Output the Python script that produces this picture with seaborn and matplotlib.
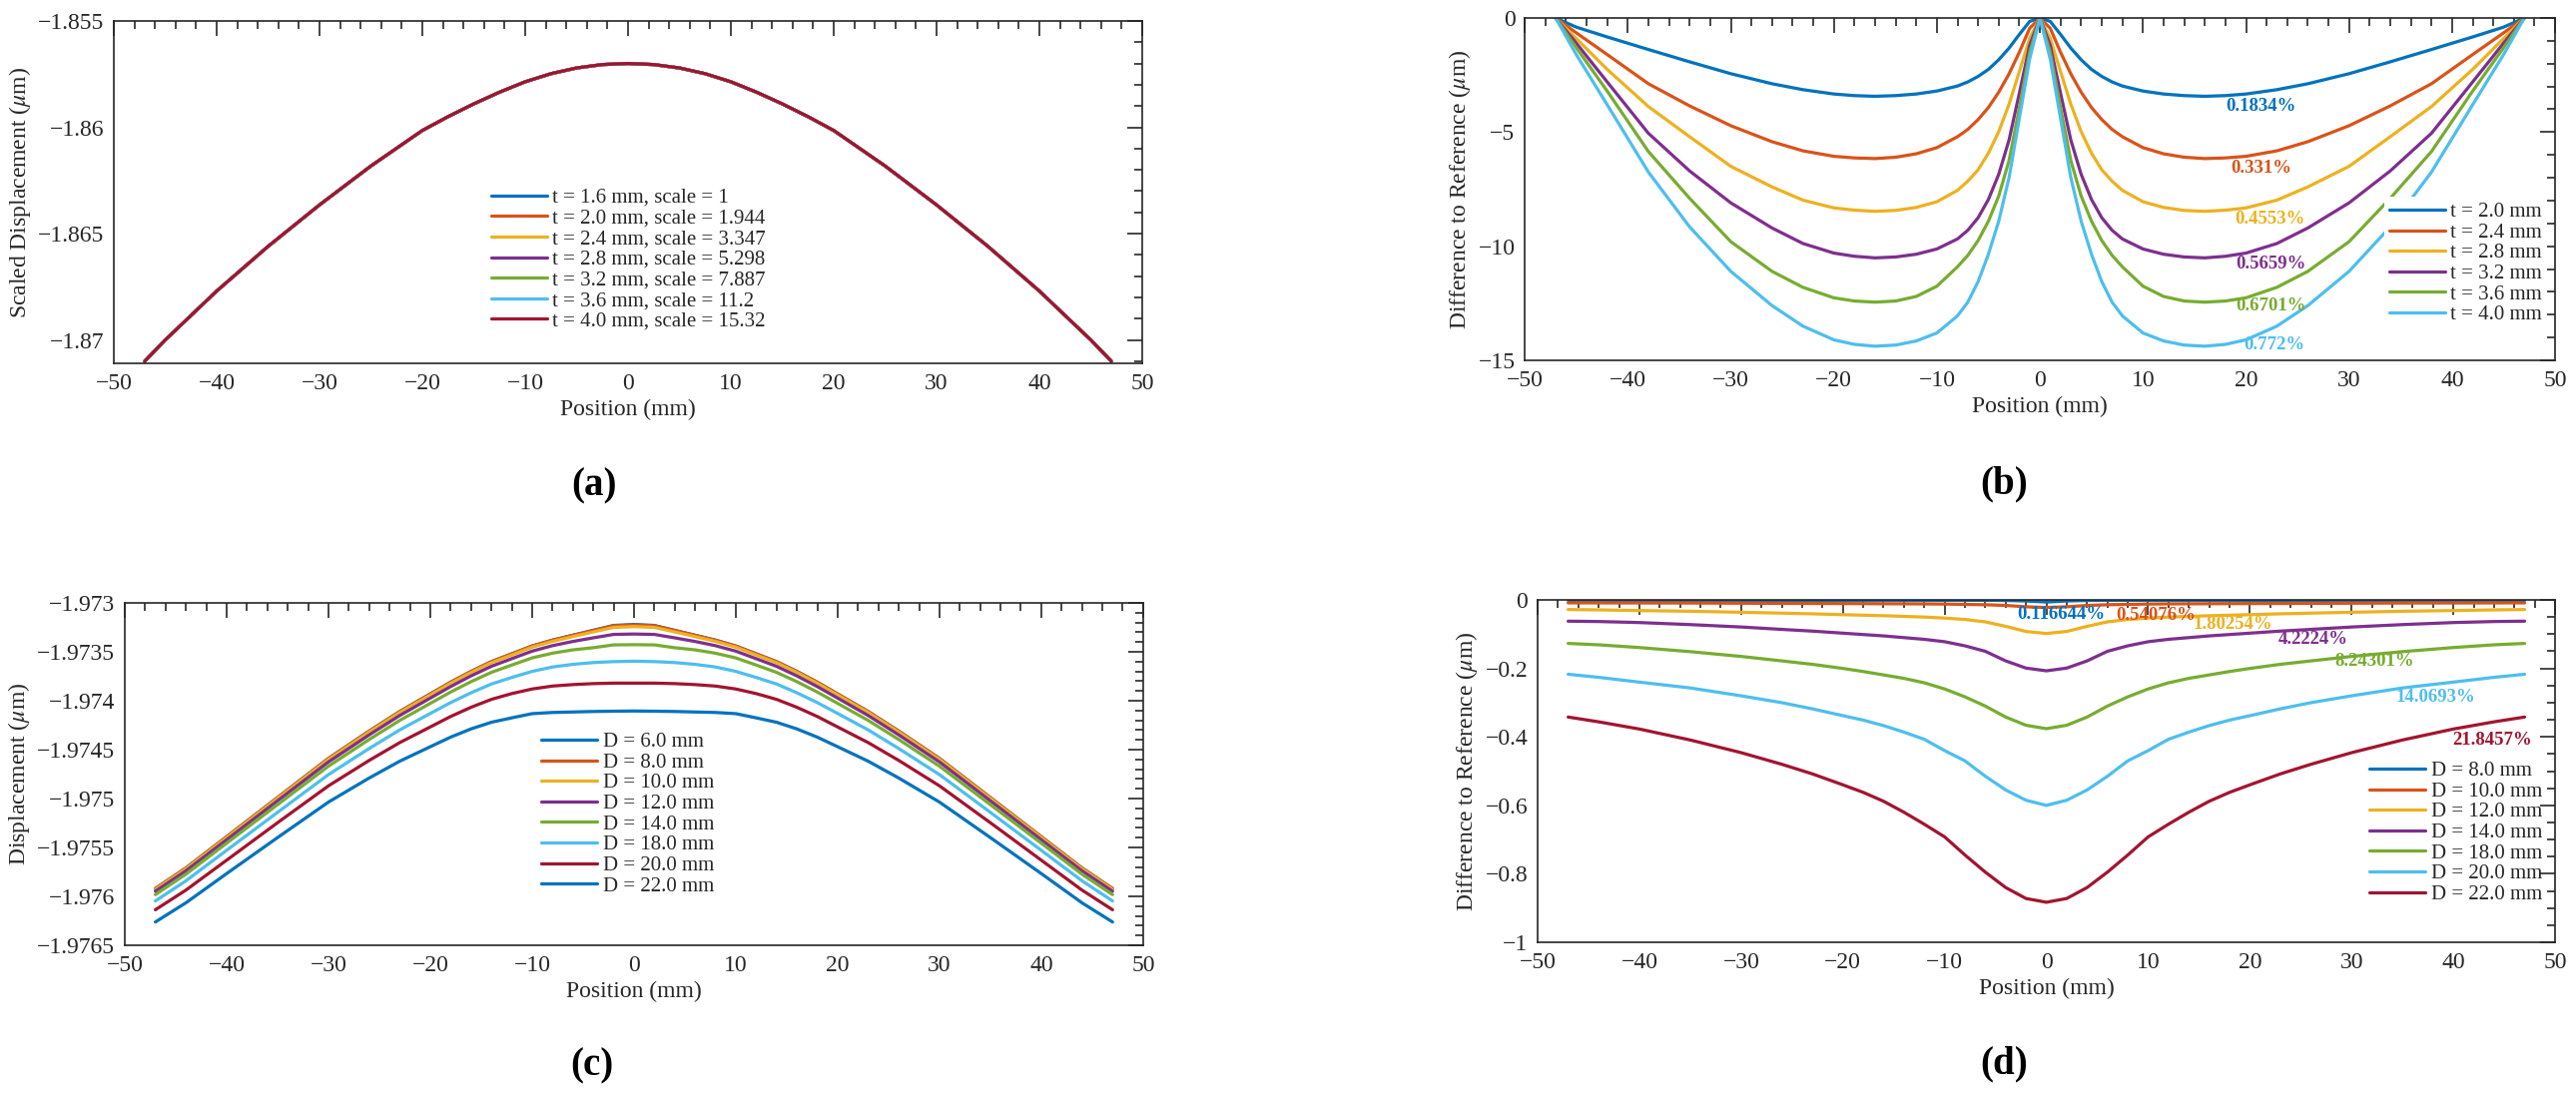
import pandas as pd
import matplotlib
matplotlib.use('Agg')
import matplotlib.pyplot as plt
import seaborn as sns
from matplotlib.ticker import MultipleLocator, FuncFormatter

sns.set_theme(style='white')
plt.rcParams['font.family'] = ['Liberation Serif', 'DejaVu Serif']
plt.rcParams['mathtext.fontset'] = 'stix'

matlab = ['#0072BD', '#D95319', '#EDB120', '#7E2F8E', '#77AC30', '#4DBEEE', '#A2142F']
ink = '#262626'

# ---------- (a) scaled displacement ----------
labels_a = ['t = 1.6 mm, scale = 1', 't = 2.0 mm, scale = 1.944', 't = 2.4 mm, scale = 3.347',
            't = 2.8 mm, scale = 5.298', 't = 3.2 mm, scale = 7.887', 't = 3.6 mm, scale = 11.2',
            't = 4.0 mm, scale = 15.32']
x_a = [-47, -45, -40, -35, -30, -25, -20, -17.5, -15, -12.5, -10, -7.5, -5, -2.5, 0,
       2.5, 5, 7.5, 10, 12.5, 15, 17.5, 20, 25, 30, 35, 40, 45, 47]
# all seven curves coincide in the picture
scaled_disp = [-1.871, -1.87, -1.8677, -1.8656, -1.86365, -1.86182, -1.86015, -1.8595, -1.8589,
               -1.85835, -1.85786, -1.85748, -1.85721, -1.85705, -1.857, -1.85705, -1.85721,
               -1.85748, -1.85786, -1.85835, -1.8589, -1.8595, -1.86015, -1.86182, -1.86365,
               -1.8656, -1.8677, -1.87, -1.871]

# ---------- (b) difference to reference, thickness ----------
labels_b = ['t = 2.0 mm', 't = 2.4 mm', 't = 2.8 mm', 't = 3.2 mm', 't = 3.6 mm', 't = 4.0 mm']
x_b = [-47, -45, -42, -38, -34, -30, -26, -23, -20, -18, -16, -14, -12, -10, -8, -7, -6, -5, -4, -3,
       -2, -1, 0, 1, 2, 3, 4, 5, 6, 7, 8, 10, 12, 14, 16, 18, 20, 23, 26, 30, 34, 38, 42, 45, 47]
diff_t20 = [0, -0.4, -0.83, -1.38, -1.92, -2.44, -2.88, -3.14, -3.33, -3.4, -3.43, -3.4, -3.33, -3.2,
            -2.98, -2.8, -2.56, -2.25, -1.83, -1.32, -0.72, -0.15, 0,
            -0.15, -0.72, -1.32, -1.83, -2.25, -2.56, -2.8, -2.98, -3.2, -3.33, -3.4, -3.43, -3.4,
            -3.33, -3.14, -2.88, -2.44, -1.92, -1.38, -0.83, -0.4, 0]
diff_t24 = [0, -0.65, -1.6, -2.88, -3.85, -4.72, -5.42, -5.82, -6.06, -6.13, -6.16, -6.1, -5.95, -5.68,
            -5.2, -4.88, -4.45, -3.92, -3.25, -2.45, -1.5, -0.45, 0,
            -0.45, -1.5, -2.45, -3.25, -3.92, -4.45, -4.88, -5.2, -5.68, -5.95, -6.1, -6.16, -6.13,
            -6.06, -5.82, -5.42, -4.72, -3.85, -2.88, -1.6, -0.65, 0]
diff_t28 = [0, -0.9, -2.25, -3.88, -5.2, -6.5, -7.4, -7.98, -8.32, -8.42, -8.47, -8.43, -8.3, -8.05,
            -7.55, -7.15, -6.65, -5.92, -4.98, -3.78, -2.35, -0.9, 0,
            -0.9, -2.35, -3.78, -4.98, -5.92, -6.65, -7.15, -7.55, -8.05, -8.3, -8.43, -8.47, -8.42,
            -8.32, -7.98, -7.4, -6.5, -5.2, -3.88, -2.25, -0.9, 0]
diff_t32 = [0, -1.1, -2.8, -5.05, -6.7, -8.1, -9.2, -9.88, -10.3, -10.44, -10.51, -10.47, -10.35,
            -10.12, -9.68, -9.3, -8.75, -7.95, -6.85, -5.35, -3.3, -1.2, 0,
            -1.2, -3.3, -5.35, -6.85, -7.95, -8.75, -9.3, -9.68, -10.12, -10.35, -10.47, -10.51,
            -10.44, -10.3, -9.88, -9.2, -8.1, -6.7, -5.05, -2.8, -1.1, 0]
diff_t36 = [0, -1.3, -3.2, -5.85, -7.9, -9.8, -11.1, -11.8, -12.26, -12.4, -12.45, -12.4, -12.2,
            -11.75, -10.9, -10.4, -9.75, -8.9, -7.8, -6.25, -3.95, -1.5, 0,
            -1.5, -3.95, -6.25, -7.8, -8.9, -9.75, -10.4, -10.9, -11.75, -12.2, -12.4, -12.45,
            -12.4, -12.26, -11.8, -11.1, -9.8, -7.9, -5.85, -3.2, -1.3, 0]
diff_t40 = [0, -1.6, -3.8, -6.75, -9.15, -11.1, -12.6, -13.5, -14.1, -14.3, -14.38, -14.33, -14.15,
            -13.8, -13.05, -12.45, -11.55, -10.35, -8.9, -7.0, -4.4, -1.8, 0,
            -1.8, -4.4, -7.0, -8.9, -10.35, -11.55, -12.45, -13.05, -13.8, -14.15, -14.33, -14.38,
            -14.3, -14.1, -13.5, -12.6, -11.1, -9.15, -6.75, -3.8, -1.6, 0]
pct_b = ['0.1834%', '0.331%', '0.4553%', '0.5659%', '0.6701%', '0.772%']

# ---------- (c) displacement, diameter ----------
labels_c = ['D = 6.0 mm', 'D = 8.0 mm', 'D = 10.0 mm', 'D = 12.0 mm', 'D = 14.0 mm',
            'D = 18.0 mm', 'D = 20.0 mm', 'D = 22.0 mm']
x_cd = [-47, -44, -40, -35, -30, -26, -23, -20, -18, -16, -14, -12, -10, -8, -6, -4, -2, 0,
        2, 4, 6, 8, 10, 12, 14, 16, 18, 20, 23, 26, 30, 35, 40, 44, 47]
disp_d6 = [-1.97592, -1.97571, -1.97539, -1.97499, -1.97459, -1.97431, -1.97411, -1.97393, -1.97381,
           -1.9737, -1.9736, -1.97352, -1.97344, -1.97338, -1.97333, -1.97328, -1.97323, -1.97322,
           -1.97323, -1.97328, -1.97333, -1.97338, -1.97344, -1.97352, -1.9736, -1.9737, -1.97381,
           -1.97393, -1.97411, -1.97431, -1.97459, -1.97499, -1.97539, -1.97571, -1.97592]
disp_d8 = [-1.975921, -1.975711, -1.975391, -1.974991, -1.974591, -1.974311, -1.974111, -1.973931,
           -1.973811, -1.973701, -1.973601, -1.973521, -1.973441, -1.973381, -1.973331, -1.973282,
           -1.973233, -1.973226, -1.973233, -1.973282, -1.973331, -1.973381, -1.973441, -1.973521,
           -1.973601, -1.973701, -1.973811, -1.973931, -1.974111, -1.974311, -1.974591, -1.974991,
           -1.975391, -1.975711, -1.975921]
disp_d10 = [-1.975929, -1.975719, -1.975399, -1.974999, -1.9746, -1.97432, -1.97412, -1.973941,
            -1.973821, -1.973711, -1.973611, -1.973532, -1.973452, -1.973393, -1.973344, -1.973296,
            -1.97325, -1.973242, -1.97325, -1.973296, -1.973344, -1.973393, -1.973452, -1.973532,
            -1.973611, -1.973711, -1.973821, -1.973941, -1.97412, -1.97432, -1.9746, -1.974999,
            -1.975399, -1.975719, -1.975929]
disp_d12 = [-1.975948, -1.975739, -1.975421, -1.975023, -1.974626, -1.974349, -1.974151, -1.973973,
            -1.973855, -1.973746, -1.973648, -1.97357, -1.973493, -1.973437, -1.973394, -1.973357,
            -1.973322, -1.973318, -1.973322, -1.973357, -1.973394, -1.973437, -1.973493, -1.97357,
            -1.973648, -1.973746, -1.973855, -1.973973, -1.974151, -1.974349, -1.974626, -1.975023,
            -1.975421, -1.975739, -1.975948]
disp_d14 = [-1.975982, -1.975773, -1.975456, -1.975062, -1.974669, -1.974396, -1.974201, -1.974027,
            -1.973911, -1.973805, -1.97371, -1.973635, -1.973562, -1.973514, -1.97348, -1.973458,
            -1.973429, -1.973427, -1.973429, -1.973458, -1.97348, -1.973514, -1.973562, -1.973635,
            -1.97371, -1.973805, -1.973911, -1.974027, -1.974201, -1.974396, -1.974669, -1.975062,
            -1.975456, -1.975773, -1.975982]
disp_d18 = [-1.976047, -1.975841, -1.975529, -1.975141, -1.974755, -1.974488, -1.974298, -1.97413,
            -1.974019, -1.973919, -1.973829, -1.973762, -1.9737, -1.973655, -1.973628, -1.97361,
            -1.9736, -1.973596, -1.9736, -1.97361, -1.973628, -1.973655, -1.9737, -1.973762,
            -1.973829, -1.973919, -1.974019, -1.97413, -1.974298, -1.974488, -1.974755, -1.975141,
            -1.975529, -1.975841, -1.976047]
disp_d20 = [-1.976137, -1.975936, -1.97563, -1.975247, -1.97487, -1.97461, -1.974428, -1.974268,
            -1.974161, -1.974067, -1.973986, -1.973927, -1.97388, -1.97385, -1.973835, -1.973825,
            -1.97382, -1.97382, -1.97382, -1.973825, -1.973835, -1.97385, -1.97388, -1.973927,
            -1.973986, -1.974067, -1.974161, -1.974268, -1.974428, -1.97461, -1.97487, -1.975247,
            -1.97563, -1.975936, -1.976137]
disp_d22 = [-1.976262, -1.976066, -1.975767, -1.975399, -1.975036, -1.97479, -1.974618, -1.97447,
            -1.974372, -1.974288, -1.97422, -1.974175, -1.974132, -1.97412, -1.974115, -1.97411,
            -1.974107, -1.974105, -1.974107, -1.97411, -1.974115, -1.97412, -1.974132, -1.974175,
            -1.97422, -1.974288, -1.974372, -1.97447, -1.974618, -1.97479, -1.975036, -1.975399,
            -1.975767, -1.976066, -1.976262]

# ---------- (d) difference to reference, diameter ----------
labels_d = ['D = 8.0 mm', 'D = 10.0 mm', 'D = 12.0 mm', 'D = 14.0 mm', 'D = 18.0 mm',
            'D = 20.0 mm', 'D = 22.0 mm']
diff_d8 = [-0.001, -0.001, -0.001, -0.001, -0.001, -0.001, -0.001, -0.001, -0.001, -0.001, -0.001,
           -0.001, -0.001, -0.001, -0.001, -0.0015, -0.003, -0.006, -0.003, -0.0015, -0.001, -0.001,
           -0.001, -0.001, -0.001, -0.001, -0.001, -0.001, -0.001, -0.001, -0.001, -0.001, -0.001,
           -0.001, -0.001]
diff_d10 = [-0.0085, -0.0086, -0.0088, -0.009, -0.0095, -0.01, -0.0102, -0.0105, -0.0107, -0.011,
            -0.0112, -0.0115, -0.012, -0.013, -0.014, -0.016, -0.02, -0.022, -0.02, -0.016, -0.014,
            -0.013, -0.012, -0.0115, -0.0112, -0.011, -0.0107, -0.0105, -0.0102, -0.01, -0.0095,
            -0.009, -0.0088, -0.0086, -0.0085]
diff_d12 = [-0.028, -0.029, -0.031, -0.033, -0.036, -0.0385, -0.0405, -0.043, -0.0445, -0.046,
            -0.048, -0.05, -0.053, -0.057, -0.064, -0.077, -0.092, -0.098, -0.092, -0.077, -0.064,
            -0.057, -0.053, -0.05, -0.048, -0.046, -0.0445, -0.043, -0.0405, -0.0385, -0.036,
            -0.033, -0.031, -0.029, -0.028]
diff_d14 = [-0.062, -0.063, -0.066, -0.072, -0.079, -0.086, -0.091, -0.097, -0.101, -0.105, -0.11,
            -0.115, -0.122, -0.134, -0.15, -0.178, -0.199, -0.207, -0.199, -0.178, -0.15, -0.134,
            -0.122, -0.115, -0.11, -0.105, -0.101, -0.097, -0.091, -0.086, -0.079, -0.072, -0.066,
            -0.063, -0.062]
diff_d18 = [-0.127, -0.131, -0.139, -0.151, -0.165, -0.178, -0.188, -0.2, -0.209, -0.219, -0.229,
            -0.242, -0.26, -0.283, -0.31, -0.342, -0.366, -0.376, -0.366, -0.342, -0.31, -0.283,
            -0.26, -0.242, -0.229, -0.219, -0.209, -0.2, -0.188, -0.178, -0.165, -0.151, -0.139,
            -0.131, -0.127]
diff_d20 = [-0.217, -0.226, -0.24, -0.257, -0.28, -0.3, -0.318, -0.338, -0.351, -0.367, -0.386,
            -0.407, -0.44, -0.47, -0.515, -0.555, -0.585, -0.6, -0.585, -0.555, -0.515, -0.47,
            -0.44, -0.407, -0.386, -0.367, -0.351, -0.338, -0.318, -0.3, -0.28, -0.257, -0.24,
            -0.226, -0.217]
diff_d22 = [-0.342, -0.356, -0.377, -0.409, -0.446, -0.48, -0.508, -0.54, -0.562, -0.588, -0.62,
            -0.655, -0.692, -0.745, -0.795, -0.84, -0.872, -0.883, -0.872, -0.84, -0.795, -0.745,
            -0.692, -0.655, -0.62, -0.588, -0.562, -0.54, -0.508, -0.48, -0.446, -0.409, -0.377,
            -0.356, -0.342]
pct_d = ['0.116644%', '0.54076%', '1.80254%', '4.2224%', '8.24301%', '14.0693%', '21.8457%']

# annotation anchors (data coords)
pct_b_pos = [(21.4, -3.87), (21.5, -6.57), (22.3, -8.79), (22.4, -10.77), (22.4, -12.6), (22.7, -14.3)]
pct_d_pos = [(1.4, -0.043), (10.8, -0.046), (18.3, -0.072), (26.2, -0.114), (32.2, -0.179),
             (38.3, -0.284), (43.8, -0.41)]


def long_df(x, series, labels):
    rows = []
    for lab, ys in zip(labels, series):
        for xv, yv in zip(x, ys):
            rows.append((lab, xv, yv))
    return pd.DataFrame(rows, columns=['label', 'pos', 'val'])


def fmt(v, p):
    if abs(v) < 1e-12:
        v = 0.0
    return ('%g' % round(v, 6)).replace('-', '\u2212')


def style(ax, ylim, ymaj, ymin, ylabel):
    ax.set_xlim(-50, 50)
    ax.set_ylim(*ylim)
    ax.xaxis.set_major_locator(MultipleLocator(10))
    ax.xaxis.set_minor_locator(MultipleLocator(2))
    ax.yaxis.set_major_locator(MultipleLocator(ymaj))
    ax.yaxis.set_minor_locator(MultipleLocator(ymin))
    ax.xaxis.set_major_formatter(FuncFormatter(fmt))
    ax.yaxis.set_major_formatter(FuncFormatter(fmt))
    ax.tick_params(which='both', direction='in', top=True, right=True, colors=ink,
                   labelsize=17, width=1.2)
    ax.tick_params(which='major', length=11, pad=7)
    ax.tick_params(which='minor', length=5.5)
    for s in ax.spines.values():
        s.set_visible(True)
        s.set_color(ink)
        s.set_linewidth(1.2)
    ax.set_xlabel('Position (mm)', fontsize=17, color=ink)
    ax.set_ylabel(ylabel, fontsize=17, color=ink)


def draw(ax, x, series, labels, colors):
    df = long_df(x, series, labels)
    pal = dict(zip(labels, colors))
    sns.lineplot(data=df, x='pos', y='val', hue='label', hue_order=labels, palette=pal,
                 linewidth=2.3, legend=False, errorbar=None, sort=False, ax=ax)


def add_legend(ax, labels, anchor, boxed=False):
    ax.legend(handles=ax.get_lines()[:len(labels)], labels=labels, loc='upper left',
              bbox_to_anchor=anchor, borderaxespad=0, borderpad=0.25 if boxed else 0,
              frameon=boxed, facecolor='white', edgecolor='none', framealpha=1, fancybox=False,
              fontsize=15, handlelength=2.7, handletextpad=0.25, labelspacing=0.05)


fig = plt.figure(figsize=(25.8, 10.99), dpi=100)
ax_a = fig.add_axes([0.0442, 0.6688, 0.3992, 0.3121])
ax_b = fig.add_axes([0.5919, 0.6715, 0.4000, 0.3121])
ax_c = fig.add_axes([0.04845, 0.1383, 0.3953, 0.3121])
ax_d = fig.add_axes([0.5969, 0.1410, 0.3950, 0.3121])

# (a)
draw(ax_a, x_a, [scaled_disp] * 7, labels_a, matlab)
style(ax_a, (-1.8711, -1.855), 0.005, 0.001, r'Scaled Displacement ($\mu$m)')
add_legend(ax_a, labels_a, (0.367, 0.512))

# (b)
draw(ax_b, x_b, [diff_t20, diff_t24, diff_t28, diff_t32, diff_t36, diff_t40], labels_b, matlab[:6])
style(ax_b, (-15, 0), 5, 1, r'Difference to Reference ($\mu$m)')
for txt, (px, py), c in zip(pct_b, pct_b_pos, matlab):
    ax_b.text(px, py, txt, color=c, fontsize=13.5, fontweight='bold', ha='center', va='center')
add_legend(ax_b, labels_b, (0.834, 0.477), boxed=True)

# (c)
draw(ax_c, x_cd, [disp_d6, disp_d8, disp_d10, disp_d12, disp_d14, disp_d18, disp_d20, disp_d22],
     labels_c, matlab + [matlab[0]])
style(ax_c, (-1.9765, -1.973), 0.0005, 0.0001, r'Displacement ($\mu$m)')
add_legend(ax_c, labels_c, (0.409, 0.622))

# (d)
draw(ax_d, x_cd, [diff_d8, diff_d10, diff_d12, diff_d14, diff_d18, diff_d20, diff_d22], labels_d, matlab)
style(ax_d, (-1, 0), 0.2, 0.05, r'Difference to Reference ($\mu$m)')
for txt, (px, py), c in zip(pct_d, pct_d_pos, matlab):
    ax_d.text(px, py, txt, color=c, fontsize=13.5, fontweight='bold', ha='center', va='center')
add_legend(ax_d, labels_d, (0.8175, 0.529))

for lab, fx, fy in [('(a)', 0.2306, 0.557), ('(b)', 0.778, 0.559),
                    ('(c)', 0.2298, 0.028), ('(d)', 0.778, 0.030)]:
    fig.text(fx, fy, lab, ha='center', va='center', fontsize=28, fontweight='bold', color='black')

fig.savefig('out.png', dpi=100)
